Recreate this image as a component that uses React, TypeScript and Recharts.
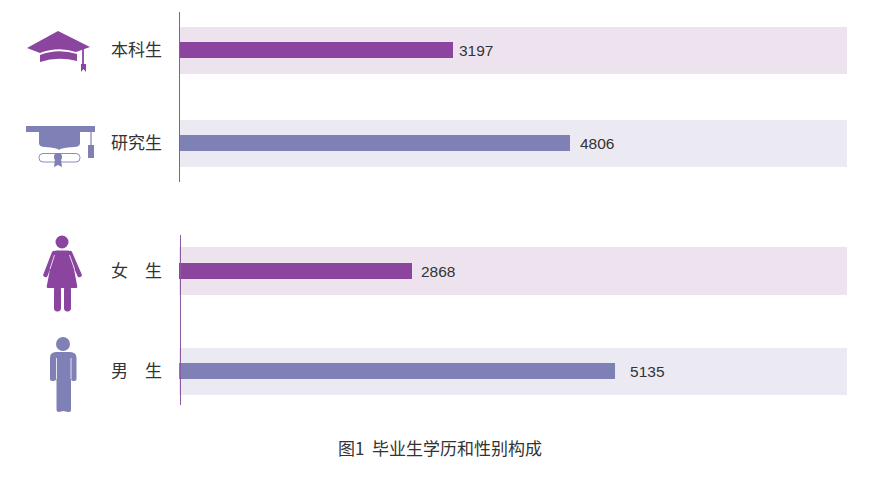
import { Bar, BarChart, CartesianGrid, LabelList, XAxis, YAxis } from 'recharts'

const PURPLE = '#8b459f'
const BLUE = '#7e80b6'
const PURPLE_BAND = '#ede3ef'
const BLUE_BAND = '#ebe9f2'
const FONT = '"Noto Sans CJK SC", sans-serif'

const categories = ['本科生', '研究生', '女　生', '男　生']
const values = [3197, 4806, 2868, 5135]
// The printed bars are not to one scale, so each row gets its own axis maximum
const axisMax = [7811, 8220, 8222, 7867]

const rowTop = [27, 120, 247, 348]
const rowHeight = [47, 47, 48, 47]
const axisX = [180, 180, 179, 179]
const labelGap = [6, 10, 9, 15]
const barColors = [PURPLE, BLUE, PURPLE, BLUE]
const bandColors = [PURPLE_BAND, BLUE_BAND, PURPLE_BAND, BLUE_BAND]

function Row({ i }: { i: number }) {
  const data = [{ name: categories[i], value: values[i] }]
  return (
    <div style={{ position: 'absolute', left: 0, top: rowTop[i] }}>
      <BarChart
        width={847}
        height={rowHeight[i]}
        data={data}
        layout="vertical"
        margin={{ top: 0, right: 0, bottom: 0, left: 0 }}
      >
        <CartesianGrid horizontal={false} vertical={false} fill={bandColors[i]} fillOpacity={1} />
        <XAxis type="number" domain={[0, axisMax[i]]} hide />
        <YAxis
          type="category"
          dataKey="name"
          width={axisX[i]}
          axisLine={false}
          tickLine={false}
          tickMargin={axisX[i] === 180 ? 12 : 11}
          padding={{ top: 0, bottom: rowHeight[i] === 47 ? 1 : 0 }}
          tick={{ fontSize: 17, fill: '#333', fontFamily: FONT }}
        />
        <Bar dataKey="value" barSize={16} fill={barColors[i]} isAnimationActive={false}>
          <LabelList
            dataKey="value"
            position="right"
            offset={labelGap[i]}
            style={{ fontSize: 15.5, fill: '#333', fontFamily: '"Liberation Sans", sans-serif' }}
          />
        </Bar>
      </BarChart>
    </div>
  )
}

function Icons() {
  return (
    <svg width={872} height={500} style={{ position: 'absolute', left: 0, top: 0 }}>
      {/* bachelor cap */}
      <path d="M27 48 L58 31 L90 47 L76 52 Q58 46 40 53 Z" fill={PURPLE} />
      <path d="M40 55 Q58 48 77 54 L77 61 Q58 56 40 62 Z" fill={PURPLE} />
      <path d="M83 47 V66" stroke={PURPLE} strokeWidth={1.8} />
      <path d="M81 64 H86 V72 L83.5 69 L81 72 Z" fill={PURPLE} />
      {/* graduate cap and diploma */}
      <rect x={26} y={126} width={69} height={6} fill={BLUE} />
      <path d="M39 132 H80 V143 Q80 147 74 147 Q60 148 59 150 Q58 148 45 147 Q39 147 39 143 Z" fill={BLUE} />
      <path d="M91 132 V145" stroke={BLUE} strokeWidth={1.2} />
      <rect x={88} y={145} width={6} height={13} fill={BLUE} />
      <rect x={39} y={153.5} width={41} height={8.5} rx={4} fill="#fff" stroke={BLUE} strokeWidth={0.9} />
      <circle cx={58} cy={157} r={4} fill={BLUE} />
      <path d="M55 159 L54 167 L58 165 L62 167 L61 159 Z" fill={BLUE} />
      {/* woman */}
      <circle cx={62} cy={242} r={6.5} fill={PURPLE} />
      <path d="M56 250.5 H68 Q70 250.5 71 253 L77 285 Q78 288 76 288 H48 Q46 288 47 285 L53 253 Q54 250.5 56 250.5 Z" fill={PURPLE} />
      <path d="M54 253 L45.5 275 M70 253 L79.5 275" stroke={PURPLE} strokeWidth={4.5} strokeLinecap="round" />
      <path d="M54.5 255 L50 269 M69.5 255 L74.5 269" stroke="#fff" strokeWidth={0.8} />
      <rect x={54} y={286} width={7} height={25.5} rx={3.4} fill={PURPLE} />
      <rect x={64} y={286} width={7} height={25.5} rx={3.4} fill={PURPLE} />
      {/* man */}
      <circle cx={63} cy={344} r={7} fill={BLUE} />
      <path d="M56 352 H70 Q76.5 352 76.5 358 V379 Q76.5 381 73.5 381 Q71 381 71 379 V410 Q71 412 68 412 L63.5 411 L59 412 Q56.5 412 56.5 410 V379 Q56 381 53 381 Q50 381 50 379 V358 Q50 352 56 352 Z" fill={BLUE} />
      <path d="M56.5 358 V379 M71 358 V379" stroke="#fff" strokeWidth={0.8} />
    </svg>
  )
}

export default function App() {
  return (
    <div style={{ position: 'absolute', left: 0, top: 0, width: 872, height: 500, background: '#fff', overflow: 'hidden' }}>
      {categories.map((_, i) => (
        <Row key={i} i={i} />
      ))}
      <div style={{ position: 'absolute', left: 179, top: 12, width: 1.4, height: 170, background: '#8b5aa3' }} />
      <div style={{ position: 'absolute', left: 180, top: 235, width: 1.4, height: 170, background: '#8b5aa3' }} />
      <Icons />
      <div
        style={{
          position: 'absolute',
          left: 338,
          top: 436,
          fontFamily: FONT,
          fontSize: 17,
          lineHeight: '24px',
          color: '#333',
          whiteSpace: 'pre',
        }}
      >
        图1  毕业生学历和性别构成
      </div>
    </div>
  )
}
